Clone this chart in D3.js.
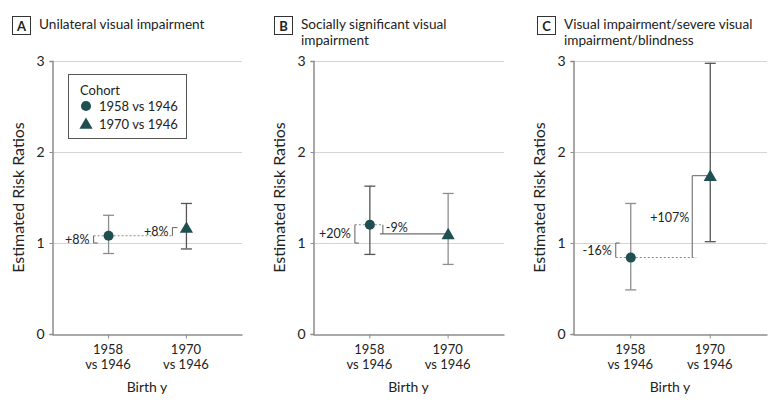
<!DOCTYPE html>
<html><head><meta charset="utf-8">
<script src="https://cdn.jsdelivr.net/npm/d3@7"></script>
<style>
body{margin:0;background:#fff}
svg text{font-family:"Lato","Noto Sans",sans-serif;fill:#222}
</style></head>
<body><svg id="c" width="783" height="405"></svg>
<script>
// ---- data ----
const categories = ["1958", "1970"];
const categoryLines2 = ["vs 1946", "vs 1946"];
const cohortLabels = ["1958 vs 1946", "1970 vs 1946"];
const yTicks = [0, 1, 2, 3];
const panelLetters = ["A", "B", "C"];
const panelTitles = [["Unilateral visual impairment"], ["Socially significant visual", "impairment"], ["Visual impairment/severe visual", "impairment/blindness"]];
const rrA = [1.08, 1.17], loA = [0.89, 0.94], hiA = [1.31, 1.44];
const rrB = [1.20, 1.10], loB = [0.88, 0.77], hiB = [1.63, 1.55];
const rrC = [0.84, 1.74], loC = [0.49, 1.02], hiC = [1.44, 2.98];
const changeA = ["+8%", "+8%"], changeB = ["+20%", "-9%"], changeC = ["-16%", "+107%"];

const svg = d3.select("#c");
const teal = "#1f4f50";
const gridC = "#d4d4d4", axisC = "#8c8c8c", lightBar = "#8e8e8e", darkBar = "#555";

const panels = [
  {x0: 52, x1: 242, tx: 12, rr: rrA, lo: loA, hi: hiA, ch: changeA, kind: "A", barCols: [lightBar, darkBar]},
  {x0: 313, x1: 504, tx: 274, rr: rrB, lo: loB, hi: hiB, ch: changeB, kind: "B", barCols: [darkBar, lightBar]},
  {x0: 573, x1: 767, tx: 537, rr: rrC, lo: loC, hi: hiC, ch: changeC, kind: "C", barCols: [lightBar, darkBar]}
];

const y = d3.scaleLinear().domain([0, 3]).range([334, 61]);
const sym = [d3.symbolCircle, d3.symbolTriangle];
const symSize = [80, 75];

panels.forEach((p, pi) => {
  const g = svg.append("g");
  const x = d3.scalePoint().domain(categories).range([p.x0, p.x1]).padding(0.72);

  // title
  g.append("rect").attr("x", p.tx + 0.5).attr("y", 16.5).attr("width", 18).attr("height", 18)
    .attr("fill", "#fff").attr("stroke", "#333");
  g.append("text").attr("x", p.tx + 9.5).attr("y", 30.5).attr("text-anchor", "middle")
    .attr("font-size", 13).attr("font-weight", "bold").text(panelLetters[pi]);
  panelTitles[pi].forEach((t, i) => g.append("text").attr("x", p.tx + 27).attr("y", 28.5 + i * 16)
    .attr("font-size", 13.6).text(t));

  // grid
  g.selectAll(".grid").data(yTicks.filter(d => d > 0)).join("line")
    .attr("x1", p.x0).attr("x2", p.x1).attr("y1", d => y(d) + 0.5).attr("y2", d => y(d) + 0.5)
    .attr("stroke", gridC);

  // y axis
  const ya = g.append("g").attr("transform", `translate(${p.x0 + 0.5},0)`)
    .call(d3.axisLeft(y).tickValues(yTicks).tickSize(3).tickPadding(5).tickFormat(d3.format("d")));
  ya.select(".domain").attr("stroke", axisC).attr("stroke-width", 1.5);
  ya.selectAll(".tick line").attr("stroke", axisC);
  ya.selectAll(".tick text").attr("font-size", 14).attr("font-family", "Lato").attr("fill", "#222");

  // x axis
  const xa = g.append("g").attr("transform", `translate(0,${y(0) + 0.5})`)
    .call(d3.axisBottom(x).tickSize(4).tickSizeOuter(0).tickFormat(""));
  xa.select(".domain").attr("stroke", axisC).attr("stroke-width", 1.5);
  xa.selectAll(".tick line").attr("stroke", axisC);
  categories.forEach((c, i) => {
    g.append("text").attr("x", x(c)).attr("y", 354).attr("text-anchor", "middle").attr("font-size", 13).text(c);
    g.append("text").attr("x", x(c)).attr("y", 369).attr("text-anchor", "middle").attr("font-size", 13).text(categoryLines2[i]);
  });
  g.append("text").attr("x", (p.x0 + p.x1) / 2).attr("y", 392).attr("text-anchor", "middle").attr("font-size", 14).text("Birth y");
  g.append("text").attr("transform", `translate(${p.x0 - 28},${y(1.5)}) rotate(-90)`)
    .attr("text-anchor", "middle").attr("font-size", 16).text("Estimated Risk Ratios");

  // error bars
  categories.forEach((c, i) => {
    const cx = x(c) + 0.5;
    g.append("line").attr("x1", cx).attr("x2", cx).attr("y1", y(p.hi[i])).attr("y2", y(p.lo[i])).attr("stroke", p.barCols[i]).attr("stroke-width", 1.3);
    [p.hi[i], p.lo[i]].forEach(v => g.append("line").attr("x1", cx - 5.5).attr("x2", cx + 5.5)
      .attr("y1", y(v) + 0.5).attr("y2", y(v) + 0.5).attr("stroke", p.barCols[i]).attr("stroke-width", 1.3));
  });

  // annotations
  const ac = "#6e6e6e";
  const ln = (x1, y1, x2, y2, dash) => g.append("line").attr("x1", x1).attr("y1", y1).attr("x2", x2).attr("y2", y2)
    .attr("stroke", dash ? "#8a8a8a" : ac).attr("stroke-width", 1.1).attr("stroke-dasharray", dash ? "2,2" : null);
  const lab = (tx, ty, t, anchor) => g.append("text").attr("x", tx).attr("y", ty).attr("text-anchor", anchor).attr("font-size", 12.5).text(t);
  const xa1 = x(categories[0]), xa2 = x(categories[1]);
  const y1 = y(1), r0 = y(p.rr[0]), r1 = y(p.rr[1]);
  const bx1 = xa1 - 14.5;
  ln(bx1, y1, bx1, r0); ln(bx1, y1, bx1 + 4, y1);
  lab(bx1 - 4, (y1 + r0) / 2 + 4.5, p.ch[0], "end");
  if (p.kind === "A") {
    const bx2 = xa2 - 13.5;
    ln(bx1, r0, bx2, r0, true);
    ln(bx2, r0, bx2, r1); ln(bx2, r1, bx2 + 5, r1);
    lab(bx2 - 4, (r0 + r1) / 2 + 4.5, p.ch[1], "end");
  } else if (p.kind === "B") {
    const bx2 = xa1 + 13.5;
    ln(bx1, r0, bx2, r0, true);
    ln(bx2, r0, bx2, r1); ln(bx2 - 3, r1, xa2, r1);
    lab(bx2 + 3, (r0 + r1) / 2 + 2.5, p.ch[1], "start");
  } else {
    const bx2 = xa2 - 17.5;
    ln(bx1, r0, bx2 + 4, r0, true);
    ln(bx2, r0, bx2, r1); ln(bx2, r1, xa2, r1);
    lab(bx2 - 3, (r0 + r1) / 2 + 5, p.ch[1], "end");
  }

  // markers
  categories.forEach((c, i) => {
    g.append("path").attr("d", d3.symbol(sym[i], symSize[i])())
      .attr("transform", `translate(${x(c) + 0.5},${y(p.rr[i]) + (i === 1 ? 1.5 : 0)})`).attr("fill", teal);
  });

  // legend (panel A only)
  if (pi === 0) {
    const lg = g.append("g");
    lg.append("rect").attr("x", 68.5).attr("y", 74.5).attr("width", 118).attr("height", 64).attr("fill", "#fff").attr("stroke", "#555");
    lg.append("text").attr("x", 80).attr("y", 95).attr("font-size", 13).text("Cohort");
    cohortLabels.forEach((t, i) => {
      lg.append("path").attr("d", d3.symbol(sym[i], symSize[i])()).attr("transform", `translate(86,${106 + i * 18 + (i === 1 ? 1 : 0)})`).attr("fill", teal);
      lg.append("text").attr("x", 99).attr("y", 111 + i * 18).attr("font-size", 13).text(t);
    });
  }
});
</script></body></html>
